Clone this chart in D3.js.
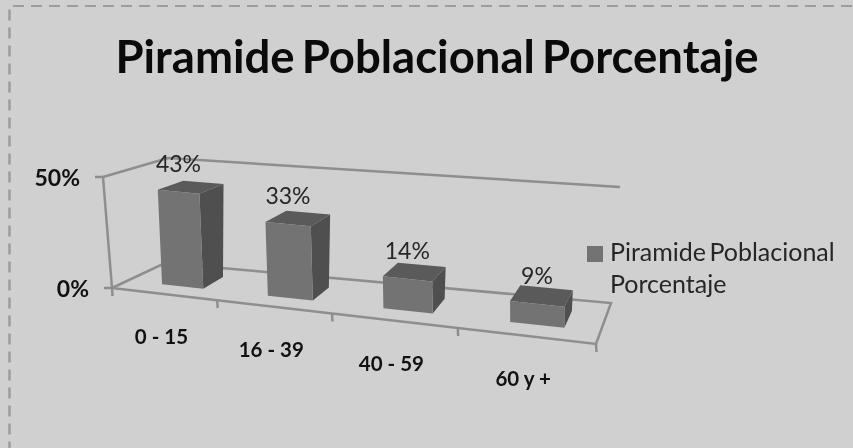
<!DOCTYPE html>
<html><head><meta charset="utf-8">
<script src="https://cdn.jsdelivr.net/npm/d3@7"></script>
<style>html,body{margin:0;padding:0;background:#d0d0d0;overflow:hidden}svg{display:block;filter:blur(0.5px)}text{font-family:Lato,"Open Sans",sans-serif}</style>
</head><body><svg id="c" width="853" height="448"></svg>
<script>
const titleText = "Piramide Poblacional Porcentaje";
const categories = ["0 - 15","16 - 39","40 - 59","60 y +"];
const values = [43,33,14,9];
const valueLabels = ["43%","33%","14%","9%"];
const valueTicks = [0,50];
const seriesName = ["Piramide Poblacional","Porcentaje"];

const svg = d3.select("#c");
const W=853,H=448;
svg.append("rect").attr("width",W).attr("height",H).attr("fill","#d0d0d0");
const frame=svg.append("g").attr("stroke","#9c9c9c").attr("stroke-dasharray","11 7");
frame.append("line").attr("x1",13).attr("y1",6).attr("x2",W).attr("y2",6).attr("stroke-width",2);
frame.append("line").attr("x1",9.5).attr("y1",9.5).attr("x2",9.5).attr("y2",H).attr("stroke-width",2.5);

// value and category scales
const yS = d3.scaleLinear().domain([0,50]).range([0,1]);
const barBand = d3.scaleBand().domain(categories).range([0,1]).paddingInner(0.6).paddingOuter(0.3).align(0.57);
const tickBand = d3.scaleBand().domain(categories).range([0,1]);
const persp = t => t/(t+1.2*(1-t));   // foreshortening along the category axis

// projection of the chart's 3D box: u along categories, v depth, w value
const fx=d3.scaleLinear().range([112,596]), fy=d3.scaleLinear().range([288,344]);
const bx=d3.scaleLinear().range([165,611]), by=d3.scaleLinear().range([263,303]);
const mix=(a,b,t)=>a+(b-a)*t;
function P(t,v,w){
  const u=persp(t);
  const lean=mix(mix(-9,-3,u),mix(3,9,u),v);
  const ht=mix(mix(111,118,u),mix(105,116,u),v);
  return [mix(fx(u),bx(u),v)+lean*w, mix(fy(u),by(u),v)-ht*w];
}
const gridColor="#8e8e8e";
const line=d3.line();
const wall=svg.append("g").attr("fill","none").attr("stroke",gridColor).attr("stroke-width",2.5);
const w1=yS(50);
wall.append("path").attr("d",line([P(0,0,0),P(1,0,0),P(1,1,0),P(0,1,0),P(0,0,0)]));
wall.append("path").attr("d",line([P(0,0,0),P(0,0,w1),P(0,1,w1),P(1,1,w1)]));
// ticks
valueTicks.forEach(d=>{
  const p=P(0,0,yS(d));
  wall.append("path").attr("d",line([[p[0]-8,p[1]],p]));
});
[0,...categories.map(c=>tickBand(c)+tickBand.bandwidth()),].forEach(t=>{
  const p=P(t,0,0);
  wall.append("path").attr("d",line([p,[p[0]+0.5,p[1]+8]]));
});

// bars
const v0=0.3,v1=0.72;
const bars=svg.append("g").selectAll("g").data(categories).join("g");
const poly=pts=>line(pts)+"Z";
bars.each(function(c,i){
  const g=d3.select(this);
  const a=barBand(c), b=a+barBand.bandwidth(), w=yS(values[i]);
  g.append("path").attr("fill","#4f4f4f").attr("d",poly([P(b,v0,0),P(b,v1,0),P(b,v1,w),P(b,v0,w)]));
  g.append("path").attr("fill","#5a5a5a").attr("d",poly([P(a,v0,w),P(b,v0,w),P(b,v1,w),P(a,v1,w)]));
  g.append("path").attr("fill","#737373").attr("d",poly([P(a,v0,0),P(b,v0,0),P(b,v0,w),P(a,v0,w)]));
  const top=P((a+b)/2,v0,w);
  svg.append("text").attr("x",top[0]).attr("y",top[1]-20).attr("text-anchor","middle")
    .attr("font-size",23).attr("fill","#262626").text(valueLabels[i]);
});

// category labels
categories.forEach(c=>{
  const p=P(tickBand(c)+tickBand.bandwidth()/2,0,0);
  svg.append("text").attr("x",p[0]-2).attr("y",p[1]+50).attr("text-anchor","middle")
    .attr("font-size",20.5).attr("font-weight",700).attr("fill","#111").text(c);
});
// value labels
valueTicks.forEach(d=>{
  const p=P(0,0,yS(d));
  svg.append("text").attr("x",p[0]-23).attr("y",p[1]+9).attr("text-anchor","end")
    .attr("font-size",23).attr("font-weight",700).attr("fill","#111").text(d+"%");
});
// title
svg.append("text").attr("x",437).attr("y",73).attr("text-anchor","middle")
  .attr("font-size",45.5).attr("font-weight",700).attr("word-spacing",-4).attr("fill","#0a0a0a").text(titleText);
// legend
svg.append("rect").attr("x",587).attr("y",246).attr("width",16).attr("height",16).attr("fill","#737373");
seriesName.forEach((s,i)=>{
  svg.append("text").attr("x",610).attr("y",261+i*32).attr("font-size",25).attr("word-spacing",-3).attr("fill","#262626").text(s);
});
</script></body></html>
